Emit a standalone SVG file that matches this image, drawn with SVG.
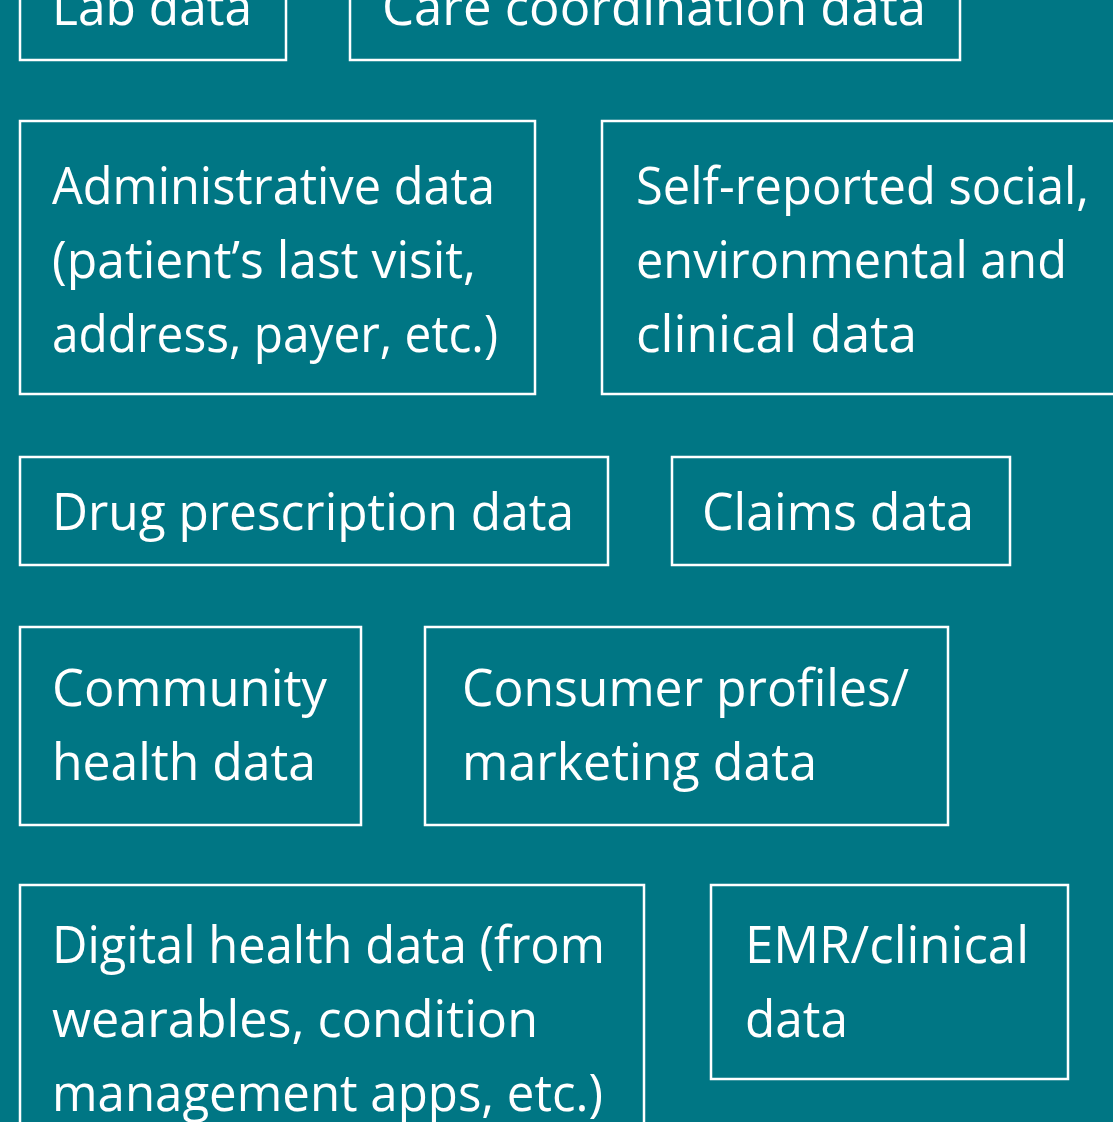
<svg xmlns="http://www.w3.org/2000/svg" width="1113" height="1122" viewBox="0 0 1113 1122">
<style>
.box{fill:none;stroke:#ffffff;stroke-width:2.5}
.t{fill:#ffffff;font-family:"Open Sans","Noto Sans",sans-serif;font-size:52px}
</style>
<rect x="0" y="0" width="1113" height="1122" fill="#007684"/>
<g id="lab"><rect class="box" x="20" y="-40" width="266" height="100"/><text class="t" x="52" y="25" textLength="200" lengthAdjust="spacingAndGlyphs">Lab data</text></g>
<g id="care"><rect class="box" x="350" y="-40" width="610" height="100"/><text class="t" x="382" y="25" textLength="544" lengthAdjust="spacingAndGlyphs">Care coordination data</text></g>
<g id="admin"><rect class="box" x="20" y="121" width="515" height="273"/>
<text class="t" x="52" y="204" textLength="443" lengthAdjust="spacingAndGlyphs">Administrative data</text>
<text class="t" x="52" y="278" textLength="424" lengthAdjust="spacingAndGlyphs">(patient’s last visit,</text>
<text class="t" x="52" y="352" textLength="446" lengthAdjust="spacingAndGlyphs">address, payer, etc.)</text></g>
<g id="self"><rect class="box" x="602" y="121" width="530" height="273"/>
<text class="t" x="636" y="204" textLength="453" lengthAdjust="spacingAndGlyphs">Self-reported social,</text>
<text class="t" x="636" y="278" textLength="431" lengthAdjust="spacingAndGlyphs">environmental and</text>
<text class="t" x="636" y="352" textLength="281" lengthAdjust="spacingAndGlyphs">clinical data</text></g>
<g id="drug"><rect class="box" x="20" y="457" width="588" height="108"/><text class="t" x="52" y="530" textLength="522" lengthAdjust="spacingAndGlyphs">Drug prescription data</text></g>
<g id="claims"><rect class="box" x="672" y="457" width="338" height="108"/><text class="t" x="702" y="530" textLength="272" lengthAdjust="spacingAndGlyphs">Claims data</text></g>
<g id="community"><rect class="box" x="20" y="627" width="341" height="198"/>
<text class="t" x="52" y="706" textLength="275" lengthAdjust="spacingAndGlyphs">Community</text>
<text class="t" x="52" y="780" textLength="264" lengthAdjust="spacingAndGlyphs">health data</text></g>
<g id="consumer"><rect class="box" x="425" y="627" width="523" height="198"/>
<text class="t" x="462" y="706" textLength="447" lengthAdjust="spacingAndGlyphs">Consumer profiles/</text>
<text class="t" x="462" y="780" textLength="355" lengthAdjust="spacingAndGlyphs">marketing data</text></g>
<g id="digital"><rect class="box" x="20" y="885" width="624" height="300"/>
<text class="t" x="52" y="963" textLength="553" lengthAdjust="spacingAndGlyphs">Digital health data (from</text>
<text class="t" x="52" y="1037" textLength="486" lengthAdjust="spacingAndGlyphs">wearables, condition</text>
<text class="t" x="52" y="1111" textLength="551" lengthAdjust="spacingAndGlyphs">management apps, etc.)</text></g>
<g id="emr"><rect class="box" x="711" y="885" width="357" height="194"/>
<text class="t" x="745" y="963" textLength="284" lengthAdjust="spacingAndGlyphs">EMR/clinical</text>
<text class="t" x="745" y="1037" textLength="103" lengthAdjust="spacingAndGlyphs">data</text></g>
<g id="connectors"/>
</svg>
